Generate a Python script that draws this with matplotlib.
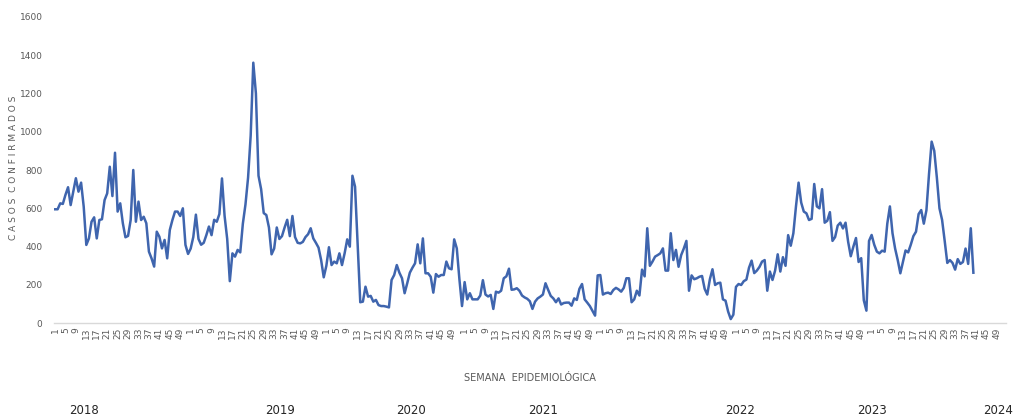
import matplotlib
matplotlib.use("Agg")
import matplotlib.pyplot as plt
import numpy as np

# casos confirmados por semana epidemiologica
years = [2018, 2019, 2020, 2021, 2022, 2023, 2024]
weeks_in_year = [52, 52, 53, 52, 52, 52, 52]

c2018 = [595, 595, 626, 623, 670, 710, 617, 687, 757, 687, 734, 609, 409, 443, 530, 553, 443, 539, 543, 643,
         678, 817, 664, 890, 583, 626, 522, 449, 456, 539, 800, 530, 635, 539, 556, 522, 374, 339, 296, 478,
         452, 391, 435, 339, 487, 539, 583, 583, 560, 600, 409, 362]
c2019 = [390, 450, 567, 440, 410, 420, 460, 505, 460, 540, 530, 570, 756, 560, 440, 220, 365, 348, 383, 370,
         520, 620, 760, 980, 1360, 1200, 770, 700, 575, 565, 500, 360, 390, 500, 440, 455, 500, 540, 455, 560,
         450, 420, 417, 425, 450, 465, 496, 443, 420, 395, 330, 240]
c2020 = [300, 397, 304, 322, 313, 365, 304, 365, 438, 400, 770, 713, 410, 110, 113, 191, 139, 143, 113, 122,
         95, 90, 90, 87, 83, 226, 252, 304, 264, 235, 157, 209, 264, 290, 313, 412, 313, 443, 261, 261,
         243, 160, 257, 243, 252, 252, 322, 287, 282, 438, 391, 230, 90]
c2021 = [215, 125, 157, 125, 125, 125, 145, 225, 150, 140, 148, 75, 165, 160, 170, 235, 245, 285, 175, 177,
         183, 170, 145, 135, 128, 115, 75, 113, 130, 139, 150, 209, 175, 143, 130, 110, 130, 98, 106, 108,
         108, 92, 130, 122, 180, 205, 125, 108, 90, 65, 40, 250]
c2022 = [252, 150, 157, 160, 153, 174, 185, 177, 165, 185, 235, 235, 110, 125, 170, 145, 280, 245, 496, 300,
         322, 348, 356, 365, 391, 275, 275, 470, 330, 383, 295, 356, 390, 430, 170, 250, 230, 235, 243, 247,
         180, 150, 230, 282, 200, 209, 212, 125, 118, 61, 22, 45]
c2023 = [190, 205, 200, 220, 228, 290, 327, 262, 275, 294, 322, 330, 170, 270, 226, 275, 360, 270, 345, 300,
         460, 405, 470, 610, 734, 630, 583, 574, 539, 545, 727, 610, 600, 700, 525, 535, 580, 430, 450, 510,
         525, 495, 525, 425, 350, 400, 445, 320, 340, 120, 66, 430]
c2024 = [461, 410, 374, 365, 379, 374, 520, 610, 470, 390, 330, 261, 320, 380, 370, 410, 455, 478, 570, 591,
         520, 590, 780, 948, 900, 760, 600, 540, 430, 315, 330, 315, 280, 335, 310, 320, 390, 310, 496, 264]

casos = c2018 + c2019 + c2020 + c2021 + c2022 + c2023 + c2024
year_label_x = [84, 280, 411, 543, 740, 872, 998]  # pixel positions of the year texts

W, H = 1015, 418
fig = plt.figure(figsize=(W / 100, H / 100), dpi=100)
ax = fig.add_axes([53.7 / W, (H - 323.3) / H, 952.3 / W, 306.6 / H])

x = np.arange(len(casos))
ax.plot(x, casos, color='#3F65AE', linewidth=1.8, solid_joinstyle='round')

# ticks: semana 1, 5, 9 ... 49 de cada año
ticks, labels = [], []
start = 0
for n in weeks_in_year:
    for w in range(1, 50, 4):
        ticks.append(start + w - 1)
        labels.append(str(w))
    start += n

ax.set_xlim(-0.5, sum(weeks_in_year) - 0.5)
ax.set_ylim(0, 1600)
ax.set_yticks(range(0, 1601, 200))
ax.set_xticks(ticks)
ax.set_xticklabels(labels, rotation=90)
ax.tick_params(axis='x', length=0, pad=3, labelsize=6.5, colors='#595959')
ax.tick_params(axis='y', length=0, pad=8, labelsize=6.5, colors='#595959')

for s in ['top', 'right', 'left']:
    ax.spines[s].set_visible(False)
ax.spines['bottom'].set_color('#D9D9D9')
ax.spines['bottom'].set_linewidth(1)

fig.text(14 / W, 1 - 168 / H, 'C A S O S   C O N F I R M A D O S'.replace('   ', '  '),
         rotation=90, ha='center', va='center', fontsize=6.5, color='#595959')
fig.text(530 / W, 1 - 378 / H, 'SEMANA  EPIDEMIOLÓGICA', ha='center', va='center',
         fontsize=7, color='#595959')

for yr, px in zip(years, year_label_x):
    fig.text(px / W, 1 - 411 / H, str(yr), ha='center', va='center', fontsize=8.5,
             color='#262626', family=['Liberation Sans Narrow', 'DejaVu Sans'])

fig.savefig('out.png', dpi=100)
